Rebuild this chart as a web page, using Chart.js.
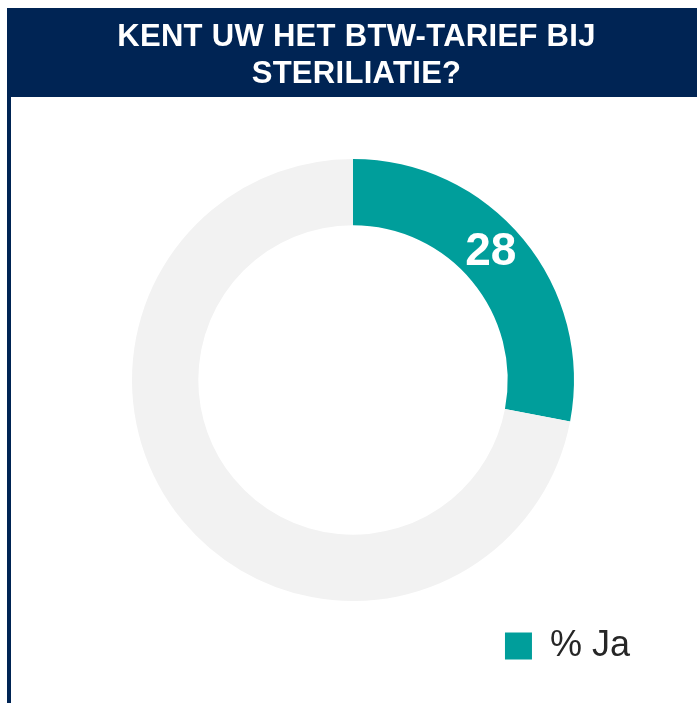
<!DOCTYPE html>
<html>
<head>
<meta charset="utf-8">
<script src="https://cdn.jsdelivr.net/npm/chart.js@4/dist/chart.umd.min.js"></script>
<style>
  html, body { margin: 0; padding: 0; background: #ffffff; }
  body { width: 697px; height: 703px; position: relative; overflow: hidden; font-family: "Liberation Sans", Arial, sans-serif; }
  #header { position: absolute; left: 7px; top: 8px; width: 690px; height: 89px; background: #002454; }
  #leftbar { position: absolute; left: 7px; top: 97px; width: 4px; height: 606px; background: #002454; }
  #title { position: absolute; left: 0; top: 17px; width: 713px; text-align: center; color: #ffffff;
           font-weight: bold; font-size: 31px; line-height: 37px; letter-spacing: 0.3px; }
  #wrap { position: absolute; left: 0; top: 0; width: 697px; height: 703px; }
</style>
</head>
<body>
<div id="wrap"><canvas id="c"></canvas></div>
<div id="header"></div>
<div id="leftbar"></div>
<div id="title"></div>
<script>
const titleLines = ['KENT UW HET BTW-TARIEF BIJ', 'STERILIATIE?'];
const categories = ['% Ja', '% Nee'];
const values = [28, 72];
const sliceColors = ['#009e9b', '#f2f2f2'];
const shownLabels = ['28', ''];

const titleEl = document.getElementById('title');
titleLines.forEach((line, i) => {
  if (i > 0) titleEl.appendChild(document.createElement('br'));
  titleEl.appendChild(document.createTextNode(line));
});

const valueLabelPlugin = {
  id: 'valueLabels',
  afterDatasetsDraw(chart) {
    const ctx = chart.ctx;
    const meta = chart.getDatasetMeta(0);
    meta.data.forEach((arc, i) => {
      const txt = shownLabels[i];
      if (!txt) return;
      const p = arc.tooltipPosition();
      ctx.save();
      ctx.fillStyle = '#ffffff';
      ctx.font = 'bold 46px "Liberation Sans", Arial, sans-serif';
      ctx.textAlign = 'center';
      ctx.textBaseline = 'middle';
      ctx.fillText(txt, p.x - 7, p.y - 8);
      ctx.restore();
    });
  }
};

new Chart(document.getElementById('c'), {
  type: 'doughnut',
  data: {
    labels: categories,
    datasets: [{
      data: values,
      backgroundColor: sliceColors,
      borderWidth: 0,
      hoverOffset: 0
    }]
  },
  options: {
    responsive: true,
    maintainAspectRatio: false,
    animation: false,
    cutout: '70%',
    layout: { padding: { top: 159, bottom: 29, left: 49, right: 40 } },
    plugins: {
      tooltip: { enabled: false },
      legend: {
        display: true,
        position: 'bottom',
        align: 'end',
        labels: {
          boxWidth: 27,
          boxHeight: 27,
          padding: 27,
          color: '#262626',
          font: { size: 36, family: '"Liberation Sans", Arial, sans-serif' },
          filter: (item) => item.index === 0
        }
      }
    }
  },
  plugins: [valueLabelPlugin]
});
</script>
</body>
</html>
